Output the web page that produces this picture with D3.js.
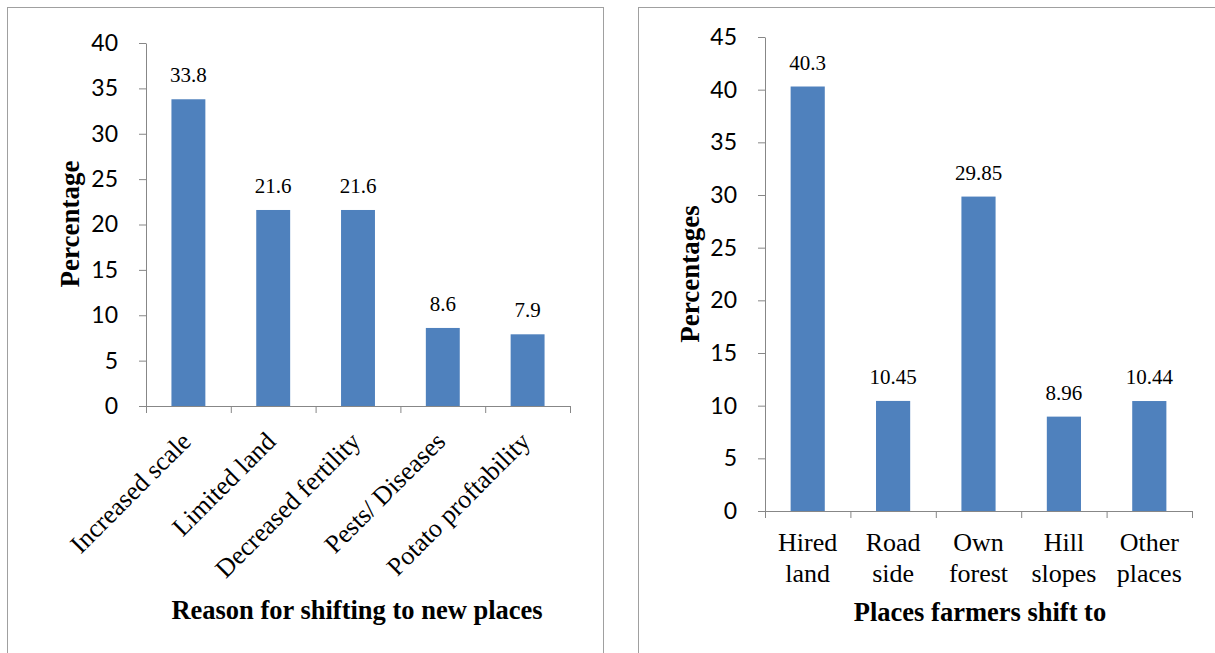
<!DOCTYPE html>
<html>
<head>
<meta charset="utf-8">
<script src="https://cdn.jsdelivr.net/npm/d3@7"></script>
<style>
  body { margin: 0; background: #fff; }
  svg { display: block; }
</style>
</head>
<body>
<script>
// left chart: reasons
const reasonCats = ["Increased scale", "Limited land", "Decreased fertility", "Pests/ Diseases", "Potato proftability"];
const reasonVals = [33.8, 21.6, 21.6, 8.6, 7.9];
const reasonTicks = [0, 5, 10, 15, 20, 25, 30, 35, 40];

// right chart: places
const placeCats = [["Hired", "land"], ["Road", "side"], ["Own", "forest"], ["Hill", "slopes"], ["Other", "places"]];
const placeVals = [40.3, 10.45, 29.85, 8.96, 10.44];
const placeLabels = ["40.3", "10.45", "29.85", "8.96", "10.44"];
const placeTicks = [0, 5, 10, 15, 20, 25, 30, 35, 40, 45];

const barColor = "#4f81bd";
const axisColor = "#878787";
const serif = "'Liberation Serif', 'Times New Roman', serif";
const sans = "Lato, 'Open Sans', sans-serif";

const svg = d3.select("body").append("svg")
    .attr("width", 1215).attr("height", 653);

// panel frames (bottom edge falls outside the picture)
svg.append("rect").attr("x", 7.5).attr("y", 7.5).attr("width", 596).attr("height", 700)
    .attr("fill", "none").attr("stroke", "#a0a0a0");
svg.append("rect").attr("x", 638.5).attr("y", 7.5).attr("width", 700).attr("height", 700)
    .attr("fill", "none").attr("stroke", "#a0a0a0");

function drawChart(opts) {
    const g = svg.append("g");
    const x = d3.scaleBand().domain(d3.range(opts.vals.length))
        .range([opts.x0, opts.x1]).paddingInner(0.6).paddingOuter(0.3);
    const xb = d3.scaleLinear().domain([0, opts.vals.length]).range([opts.x0, opts.x1]);
    const y = d3.scaleLinear().domain([0, opts.max]).range([opts.y0, opts.y1]);

    // y axis
    const ya = g.append("g").attr("transform", `translate(${opts.x0},0)`)
        .call(d3.axisLeft(y).tickValues(opts.ticks).tickSize(7).tickPadding(21).tickSizeOuter(0));
    ya.select(".domain").attr("stroke", axisColor);
    ya.selectAll(".tick line").attr("stroke", axisColor);
    ya.selectAll("text").attr("font-family", sans).attr("font-size", 23).attr("fill", "#000");

    // x axis with ticks at category boundaries
    const xa = g.append("g").attr("transform", `translate(0,${opts.y0})`)
        .call(d3.axisBottom(xb).tickValues(d3.range(opts.vals.length + 1)).tickSize(7).tickSizeOuter(0).tickFormat(""));
    xa.select(".domain").attr("stroke", axisColor);
    xa.selectAll(".tick line").attr("stroke", axisColor);

    // bars
    g.selectAll("rect.bar").data(opts.vals).enter().append("rect")
        .attr("class", "bar")
        .attr("x", (d, i) => x(i))
        .attr("width", x.bandwidth())
        .attr("y", d => y(d))
        .attr("height", d => y(0) - y(d))
        .attr("fill", barColor);

    // value labels
    g.selectAll("text.val").data(opts.vals).enter().append("text")
        .attr("class", "val")
        .attr("x", (d, i) => x(i) + x.bandwidth() / 2)
        .attr("y", d => y(d) - 17)
        .attr("text-anchor", "middle")
        .attr("font-family", serif).attr("font-size", 21)
        .text((d, i) => opts.labels[i]);

    // axis titles
    g.append("text")
        .attr("transform", `translate(${opts.ytx},${opts.yty}) rotate(-90)`)
        .attr("text-anchor", "middle")
        .attr("font-family", serif).attr("font-size", 27).attr("font-weight", "bold")
        .text(opts.ytitle);
    g.append("text")
        .attr("x", opts.xtx).attr("y", opts.xty)
        .attr("text-anchor", "middle")
        .attr("font-family", serif).attr("font-size", 26.5).attr("font-weight", "bold")
        .text(opts.xtitle);

    return { g, x };
}

const left = drawChart({
    vals: reasonVals, labels: reasonVals.map(d => d.toFixed(1)), ticks: reasonTicks, max: 40,
    x0: 146, x1: 570, y0: 406, y1: 43,
    ytitle: "Percentage", ytx: 79, yty: 224,
    xtitle: "Reason for shifting to new places", xtx: 357, xty: 619
});
left.g.selectAll("text.cat").data(reasonCats).enter().append("text")
    .attr("class", "cat")
    .attr("transform", (d, i) => `translate(${left.x(i) + left.x.bandwidth() / 2 + 4},${443}) rotate(-45)`)
    .attr("text-anchor", "end")
    .attr("font-family", serif).attr("font-size", 26)
    .text(d => d);

const right = drawChart({
    vals: placeVals, labels: placeLabels, ticks: placeTicks, max: 45,
    x0: 765, x1: 1192, y0: 511, y1: 37,
    ytitle: "Percentages", ytx: 699, yty: 274,
    xtitle: "Places farmers shift to", xtx: 980, xty: 621
});
right.g.selectAll("text.cat").data(placeCats).enter().append("text")
    .attr("class", "cat")
    .attr("text-anchor", "middle")
    .attr("font-family", serif).attr("font-size", 26)
    .each(function (d, i) {
        const t = d3.select(this);
        d.forEach((line, k) => {
            t.append("tspan")
                .attr("x", right.x(i) + right.x.bandwidth() / 2)
                .attr("y", 551 + k * 31)
                .text(line);
        });
    });
</script>
</body>
</html>
